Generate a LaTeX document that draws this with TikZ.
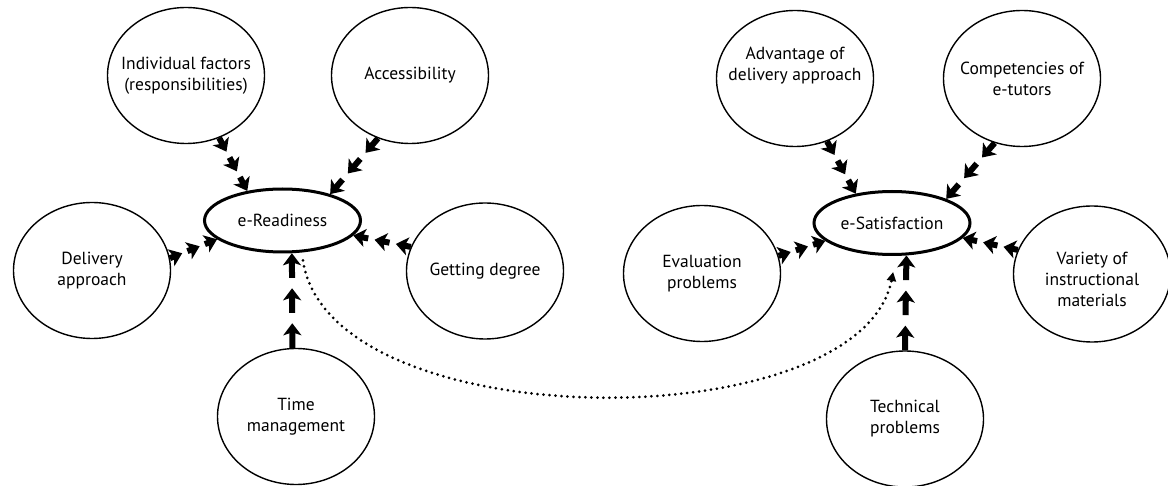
\documentclass[tikz,border=0pt]{standalone}
\usepackage{fontspec}
\setmainfont{PT Sans}
\usetikzlibrary{shapes.geometric,arrows.meta,calc}
\tikzset{
  fac/.style={ellipse, draw, line width=1.4pt, minimum width=157pt, minimum height=136pt, inner sep=0pt},
  hub/.style={ellipse, draw, line width=3pt, minimum width=156pt, minimum height=63pt, inner sep=0pt, font=\fontsize{17.5}{21}\selectfont},
  txt/.style={align=center, font=\fontsize{17.5}{21}\selectfont, inner sep=0pt},
  seg/.style={line width=6pt, -{Stealth[length=12pt,width=18pt,inset=3pt]}},
  dots/.style={line width=3pt, line cap=round, dash pattern=on 0pt off 6pt, -{Triangle[length=9pt,width=9pt]}},
}
\newcommand\tarr[2]{%
  \draw[seg] ($(#1)!0!(#2)$) -- ($(#1)!0.26!(#2)$);
  \draw[seg] ($(#1)!0.37!(#2)$) -- ($(#1)!0.63!(#2)$);
  \draw[seg] ($(#1)!0.74!(#2)$) -- ($(#1)!1!(#2)$);}
\begin{document}
\begin{tikzpicture}[x=1pt,y=-1pt]
\useasboundingbox (0,0) rectangle (1168,486);
% left group
\node[fac, label={[txt]center:{Individual factors\\(responsibilities)}}] (ind) at (186,75.5) {};
\node[fac, label={[txt]center:{Accessibility}}] (acc) at (410,75.5) {};
\node[hub] (er) at (282.5,220.5) {e-Readiness};
\node[fac, label={[txt]center:{Delivery\\approach}}] (del) at (92,270.5) {};
\node[fac, label={[txt]center:{Getting degree}}] (get) at (485,271) {};
\node[fac, label={[txt]center:{Time\\management}}] (tim) at (296,416.5) {};
% right group
\node[fac, label={[txt,yshift=13pt]center:{Advantage of\\delivery approach}}] (adv) at (795,78.5) {};
\node[fac, label={[txt]center:{Competencies of\\e-tutors}}] (com) at (1022,78.5) {};
\node[hub] (es) at (892,223) {e-Satisfaction};
\node[fac, label={[txt]center:{Evaluation\\problems}}] (eva) at (702,273.5) {};
\node[fac, label={[txt,yshift=-5.5pt]center:{Variety of\\instructional\\materials}}] (var) at (1092,274) {};
\node[fac, label={[txt]center:{Technical\\problems}}] (tec) at (905,419) {};
% connectors
\tarr{ind.-62.2}{er.140.4}
\tarr{acc.-117.1}{er.29.9}
\tarr{del.9.7}{er.196.3}
\tarr{get.162.3}{er.-12.3}
\tarr{tim.93.3}{er.-74.2}
\tarr{adv.-63.6}{es.141}
\tarr{com.-113.6}{es.24}
\tarr{eva.13.3}{es.195.2}
\tarr{var.162.3}{es.-12.9}
\tarr{tec.90}{es.-66.6}
\coordinate (dend) at ([yshift=-16pt]es.-88);
\draw[dots, shorten <=8pt] (er.-59) .. controls (330,440) and (860,440) .. (dend);
\end{tikzpicture}
\end{document}
